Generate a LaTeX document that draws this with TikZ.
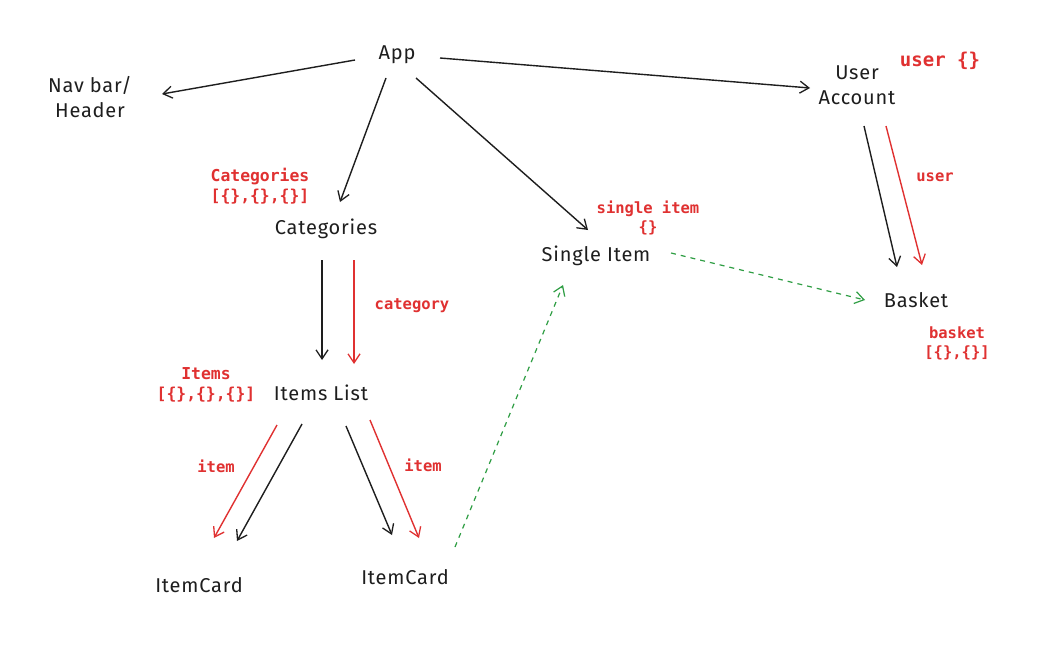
\documentclass[tikz,border=0pt]{standalone}
\usepackage{fontspec}
\setmainfont{Fira Sans}
\newfontfamily\handfont[LetterSpace=4]{Fira Sans}
\newfontfamily\codefont{DejaVu Sans Mono}
\usetikzlibrary{arrows.meta}
\definecolor{ink}{HTML}{1E1E1E}
\definecolor{rd}{HTML}{E03131}
\definecolor{gr}{HTML}{2F9E44}
\tikzset{
  hand/.style={font=\handfont\fontsize{20}{25}\selectfont, text=ink, align=center, inner sep=0pt},
  code/.style={font=\codefont\bfseries\fontsize{15.5}{19}\selectfont, text=rd, align=center, inner sep=0pt},
  codebig/.style={font=\codefont\bfseries\fontsize{16.4}{20}\selectfont, text=rd, align=center, inner sep=0pt},
  blk/.style={draw=ink, line width=1.4pt, -{Straight Barb[length=9pt,width=12pt,line width=1.3pt]}},
  red/.style={draw=rd, line width=1.4pt, -{Straight Barb[length=9pt,width=12pt,line width=1.3pt]}},
  grn/.style={draw=gr, line width=1.2pt, dash pattern=on 5pt off 5pt, -{Straight Barb[length=9pt,width=12pt,line width=1.2pt]}},
}
\begin{document}
\begin{tikzpicture}[x=1pt,y=-1pt]
\useasboundingbox (0,0) rectangle (1042,645);
\fill[white] (0,0) rectangle (1042,645);
% nodes
\node[hand] (app) at (397,55) {App};
\node[hand] (nav) at (90,97) {Nav bar/\\Header};
\node[hand] (user) at (857,85) {User\\Account};
\node[font=\codefont\bfseries\fontsize{19}{23}\selectfont, text=rd, inner sep=0pt] (userl) at (940,61) {user \{\}};
\node[codebig] (catl) at (260,186) {Categories\\{[\{\},\{\},\{\}]}};
\node[hand] (cat) at (326,229) {Categories};
\node[code] (singl) at (648,218) {single item\\\{\}};
\node[hand] (single) at (596,256) {Single Item};
\node[hand] (basket) at (916,300) {Basket};
\node[code] (baskl) at (957,343) {basket\\{[\{\},\{\}]}};
\node[codebig] (iteml) at (206,385) {Items\\{[\{\},\{\},\{\}]}};
\node[hand] (items) at (321,393) {Items List};
\node[hand] (card1) at (199,585) {ItemCard};
\node[hand] (card2) at (405,577) {ItemCard};
\node[code] (catlab) at (412,306) {category};
\node[code] (userlab) at (935,177) {user};
\node[code] (itemlab1) at (216,466) {item};
\node[code] (itemlab2) at (423,465) {item};
% connectors
\draw[blk] ([shift={(-42,5)}]app.center) -- ([shift={(72,-3)}]nav.center);
\draw[blk] ([shift={(43,3)}]app.center) -- ([shift={(-47,3)}]user.center);
\draw[blk] ([shift={(-11,23)}]app.center) -- ([shift={(14,-27)}]cat.center);
\draw[blk] ([shift={(19,23)}]app.center) -- ([shift={(-8,-26)}]single.center);
\draw[blk] ([shift={(7,41)}]user.center) -- ([shift={(-19,-33)}]basket.center);
\draw[red] ([shift={(29,41)}]user.center) -- ([shift={(6,-35)}]basket.center);
\draw[blk] ([shift={(-4,31)}]cat.center) -- ([shift={(1,-33)}]items.center);
\draw[red] ([shift={(28,31)}]cat.center) -- ([shift={(33,-29)}]items.center);
\draw[red] ([shift={(-44,32)}]items.center) -- ([shift={(15,-47)}]card1.center);
\draw[blk] ([shift={(-19,31)}]items.center) -- ([shift={(38,-44)}]card1.center);
\draw[blk] ([shift={(25,33)}]items.center) -- ([shift={(-13,-42)}]card2.center);
\draw[red] ([shift={(49,27)}]items.center) -- ([shift={(14,-39)}]card2.center);
\draw[grn] ([shift={(75,-3)}]single.center) -- ([shift={(-51,0)}]basket.center);
\draw[grn] ([shift={(50,-30)}]card2.center) -- ([shift={(-33,29)}]single.center);
\end{tikzpicture}
\end{document}
